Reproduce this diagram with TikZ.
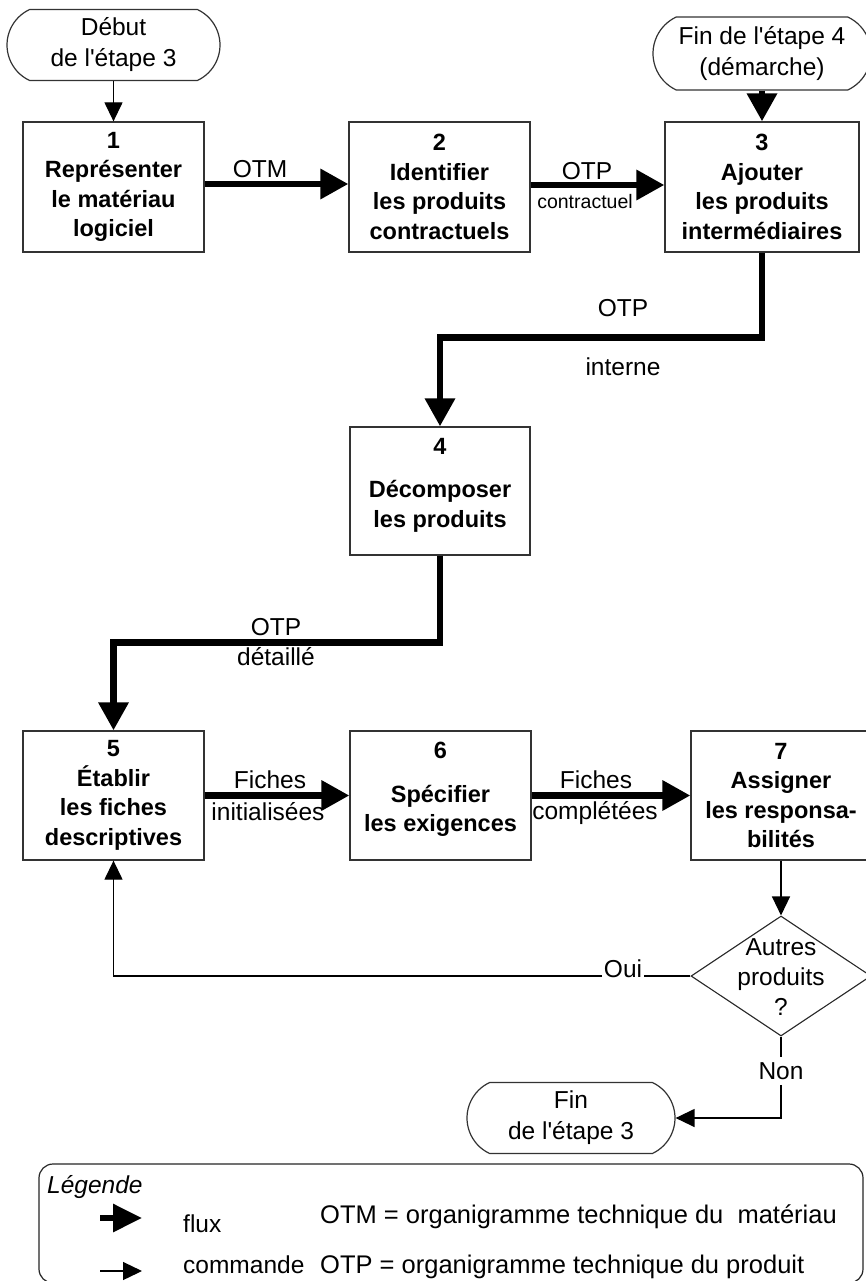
\documentclass[tikz,border=0pt]{standalone}
\usepackage{fontspec}
\setmainfont{Liberation Sans}[Ligatures=TeXOff]
\usetikzlibrary{arrows.meta,shapes.geometric,shapes.misc,calc}
\begin{document}
\begin{tikzpicture}[x=1pt,y=-1pt,
  stepbox/.style={draw=black!80, line width=1.3pt, minimum height=130pt, inner sep=0pt},
  boxtext/.style={font=\fontsize{23.5}{29.5}\selectfont\bfseries, align=center, inner sep=0pt},
  term/.style={draw=black!80, line width=1.2pt, rounded rectangle, rounded rectangle arc length=130,
     minimum height=71pt, inner sep=0pt, align=center, font=\fontsize{24.5}{31}\selectfont},
  flow/.style={line width=6.5pt, -{Triangle[length=28pt,width=29pt]}},
  ctrl/.style={line width=1.3pt, -{Triangle[length=19pt,width=18pt]}},
  plain/.style={line width=1.3pt},
  lab/.style={font=\fontsize{24.5}{30}\selectfont, inner sep=0pt, align=center},
  smalllab/.style={font=\fontsize{19.5}{24}\selectfont, inner sep=0pt},
  leglab/.style={font=\fontsize{25.5}{30}\selectfont, inner sep=0pt, anchor=base west}
]
\fill[white] (0,0) rectangle (865,1281);
\useasboundingbox (0,0) rectangle (865,1281);

% terminators
\node[term, minimum width=213pt] (t1) at (113.5,45) {Début\\de l'étape 3};
\node[term, minimum width=218pt, minimum height=73pt] (t2) at (762,53.5) {Fin de l'étape 4\\(démarche)};
\node[term, minimum width=208pt] (t3) at (571,1118) {Fin\\de l'étape 3};

% process boxes
\node[stepbox, minimum width=181pt] (b1) at (113.5,187) {};
\node[stepbox, minimum width=181pt] (b2) at (439.5,187) {};
\node[stepbox, minimum width=194pt] (b3) at (762,187) {};
\node[stepbox, minimum width=180pt, minimum height=128pt] (b4) at (440,491) {};
\node[stepbox, minimum width=181pt, minimum height=129pt] (b5) at (113.5,795.5) {};
\node[stepbox, minimum width=181pt, minimum height=129pt] (b6) at (440.5,795.5) {};
\node[stepbox, minimum width=180pt, minimum height=129pt] (b7) at (781,795.5) {};

\node[boxtext] (tx1) at (b1.center) {1\\Représenter\\le matériau\\logiciel};
\node[boxtext] (tx2) at (b2.center) {2\\Identifier\\les produits\\contractuels};
\node[boxtext] (tx3) at (b3.center) {3\\Ajouter\\les produits\\intermédiaires};
\node[boxtext, yshift=6pt] (tx4) at (b4.center) {4\\[14pt]Décomposer\\les produits};
\node[boxtext] (tx5) at (b5.center) {5\\Établir\\les fiches\\descriptives};
\node[boxtext, yshift=6pt] (tx6) at (b6.center) {6\\[14pt]Spécifier\\les exigences};
\node[boxtext] (tx7) at (b7.center) {7\\Assigner\\les responsa-\\bilités};

% decision
\node[diamond, draw=black!85, line width=1.1pt, minimum width=180pt, minimum height=120pt, inner sep=0pt] (d) at (781,976) {};
\node[lab] (dtx) at ([yshift=-1pt]d.center) {Autres\\produits\\?};

% connectors
\draw[ctrl] (t1.south) -- (b1.north);
\draw[flow] (t2.south) -- (b3.north);
\draw[flow] ([yshift=3pt]b1.east) -- ([yshift=3pt]b2.west);
\draw[flow] ([yshift=2pt]b2.east) -- ([yshift=2pt]b3.west);
\draw[flow] (b3.south) -- ++(0,85) -| (b4.north);
\draw[flow] (b4.south) -- ++(0,87) -| (b5.north);
\draw[flow] (b5.east) -- (b6.west);
\draw[flow] (b6.east) -- (b7.west);
\draw[ctrl] (b7.south) -- (d.north);

\node[lab, anchor=base, inner sep=1.5pt] (oui) at (623,977) {Oui};
\draw[plain] (d.west) -- (d.west -| oui.east);
\draw[ctrl] (d.west -| oui.west) -| (b5.south);

\node[lab, inner sep=5pt] (non) at (781,1071) {Non};
\draw[plain] (d.south) -- (non.north);
\draw[ctrl] (non.south) |- (t3.east);

% labels
\node[lab] (l1) at (260,169) {OTM};
\node[lab] (l2) at (587,171) {OTP};
\node[smalllab] (l3) at (585,202) {contractuel};
\node[lab] (l4) at (623,308) {OTP};
\node[lab] (l5) at (623,367) {interne};
\node[lab] (l6) at (276,627) {OTP};
\node[lab] (l7) at (276,657) {détaillé};
\node[lab] (l8) at (270,780) {Fiches};
\node[lab] (l9) at (268,812) {initialisées};
\node[lab] (l10) at (596,780) {Fiches};
\node[lab] (l11) at (595,813) {complétées};

% legend
\draw[black!85, line width=1.2pt, rounded corners=14pt] (39,1164) rectangle (863,1283);
\node[leglab, font=\fontsize{24.5}{30}\selectfont\itshape] (lg) at (47,1193) {Légende};
\coordinate (fa) at (100,1218);
\coordinate (fb) at (142,1218);
\coordinate (ca) at (100,1271);
\coordinate (cb) at (142,1271);
\draw[line width=6pt, -{Triangle[length=29pt,width=27pt]}] (fa) -- (fb);
\draw[ctrl] (ca) -- (cb);
\node[leglab, font=\fontsize{24.5}{30}\selectfont] (lf) at (183,1232) {flux};
\node[leglab, font=\fontsize{24.5}{30}\selectfont] (lc) at (183,1273) {commande};
\node[leglab] (lotm) at (320,1223) {OTM = organigramme technique du\ \ matériau};
\node[leglab] (lotp) at (320,1273) {OTP = organigramme technique du produit};
\end{tikzpicture}
\end{document}
